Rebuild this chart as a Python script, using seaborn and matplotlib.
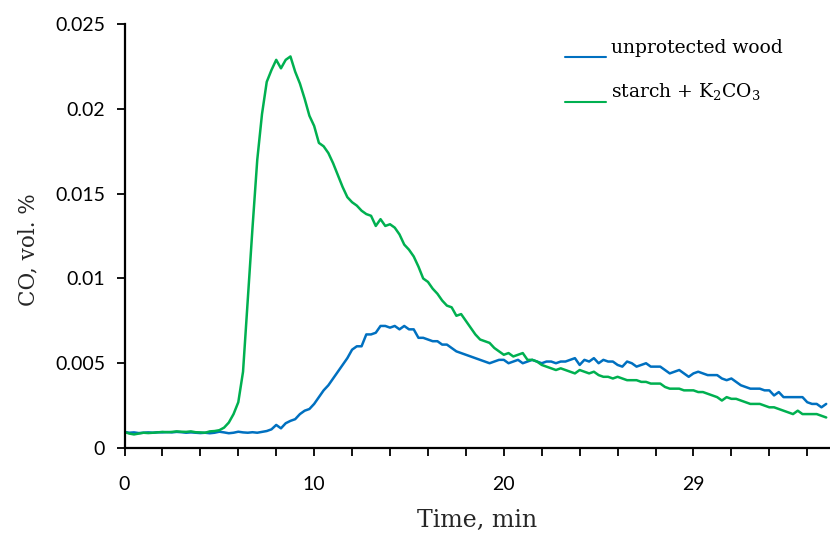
import numpy as np
import pandas as pd
import matplotlib
matplotlib.use('Agg')
import matplotlib.pyplot as plt
import seaborn as sns

# time axis, min (reading every 15 s)
time_min = np.arange(0, 37.001, 0.25)

# CO, vol. % - unprotected wood
unprotected = [
    0.00095, 0.0009, 0.00092, 0.00088, 0.0009, 0.00092, 0.0009, 0.00093,
    0.00092, 0.00094, 0.00092, 0.00095, 0.00093, 0.0009, 0.00092, 0.0009,
    0.00088, 0.0009, 0.00087, 0.0009, 0.00096, 0.00092, 0.00087, 0.0009,
    0.00096, 0.00092, 0.0009, 0.00093, 0.0009, 0.00095, 0.001, 0.0011,
    0.00136, 0.00116, 0.00146, 0.0016, 0.0017, 0.0020, 0.0022, 0.0023,
    0.0026, 0.0030, 0.0034, 0.0037, 0.0041, 0.0045, 0.0049, 0.0053,
    0.0058, 0.0060, 0.0060, 0.0067, 0.0067, 0.0068, 0.0072, 0.0072,
    0.0071, 0.0072, 0.0070, 0.0072, 0.0070, 0.0070, 0.0065, 0.0065,
    0.0064, 0.0063, 0.0063, 0.0061, 0.0061, 0.0059, 0.0057, 0.0056,
    0.0055, 0.0054, 0.0053, 0.0052, 0.0051, 0.0050, 0.0051, 0.0052,
    0.0052, 0.0050, 0.0051, 0.0052, 0.0050, 0.0051, 0.0052, 0.0051,
    0.0050, 0.0051, 0.0051, 0.0050, 0.0051, 0.0051, 0.0052, 0.0053,
    0.0049, 0.0052, 0.0051, 0.0053, 0.0050, 0.0052, 0.0051, 0.0051,
    0.0049, 0.0048, 0.0051, 0.0050, 0.0048, 0.0049, 0.0050, 0.0048,
    0.0048, 0.0048, 0.0046, 0.0044, 0.0045, 0.0046, 0.0044, 0.0042,
    0.0044, 0.0045, 0.0044, 0.0043, 0.0043, 0.0043, 0.0041, 0.0040,
    0.0041, 0.0039, 0.0037, 0.0036, 0.0035, 0.0035, 0.0035, 0.0034,
    0.0034, 0.0031, 0.0033, 0.0030, 0.0030, 0.0030, 0.0030, 0.0030,
    0.0027, 0.0026, 0.0026, 0.0024, 0.0026,
]

# CO, vol. % - starch + K2CO3
starch = [
    0.00095, 0.00085, 0.0008, 0.00085, 0.0009, 0.00088, 0.0009, 0.00092,
    0.00095, 0.00093, 0.00095, 0.00098, 0.00096, 0.00095, 0.00098, 0.00093,
    0.00092, 0.0009, 0.00098, 0.0010, 0.00105, 0.0012, 0.0015, 0.0020,
    0.0027, 0.0045, 0.0088, 0.0130, 0.0170, 0.0197, 0.0216, 0.0223,
    0.0229, 0.0224, 0.0229, 0.0231, 0.0222, 0.0215, 0.0206, 0.0196,
    0.0190, 0.0180, 0.0178, 0.0174, 0.0168, 0.0161, 0.0154, 0.0148,
    0.0145, 0.0143, 0.0140, 0.0138, 0.0137, 0.0131, 0.0135, 0.0131,
    0.0132, 0.0130, 0.0126, 0.0120, 0.0117, 0.0113, 0.0107, 0.0100,
    0.0098, 0.0094, 0.0091, 0.0087, 0.0084, 0.0083, 0.0078, 0.0079,
    0.0075, 0.0071, 0.0067, 0.0064, 0.0063, 0.0062, 0.0059, 0.0057,
    0.0055, 0.0056, 0.0054, 0.0055, 0.0056, 0.0052, 0.0052, 0.0051,
    0.0049, 0.0048, 0.0047, 0.0046, 0.0047, 0.0046, 0.0045, 0.0044,
    0.0046, 0.0045, 0.0044, 0.0045, 0.0043, 0.0042, 0.0042, 0.0041,
    0.0042, 0.0041, 0.0040, 0.0040, 0.0040, 0.0039, 0.0039, 0.0038,
    0.0038, 0.0038, 0.0036, 0.0035, 0.0035, 0.0035, 0.0034, 0.0034,
    0.0034, 0.0033, 0.0033, 0.0032, 0.0031, 0.0030, 0.0028, 0.0030,
    0.0029, 0.0029, 0.0028, 0.0027, 0.0026, 0.0026, 0.0026, 0.0025,
    0.0024, 0.0024, 0.0023, 0.0022, 0.0021, 0.0020, 0.0022, 0.0020,
    0.0020, 0.0020, 0.0020, 0.0019, 0.0018,
]

series_names = ['unprotected wood', r'starch + K$_2$CO$_3$']
colors = ['#0070C0', '#00B050']

x_ticks = np.arange(0, 37, 2)
x_ticklabels = {0: '0', 10: '10', 20: '20', 30: '29'}
y_ticks = [0, 0.005, 0.01, 0.015, 0.02, 0.025]
y_ticklabels = ['0', '0.005', '0.01', '0.015', '0.02', '0.025']

df = pd.DataFrame({
    'Time': np.concatenate([time_min, time_min]),
    'CO': unprotected + starch,
    'series': [series_names[0]] * len(unprotected) + [series_names[1]] * len(starch),
})

sns.set_style('ticks')
plt.rcParams['font.family'] = ['DejaVu Serif']
plt.rcParams['mathtext.fontset'] = 'dejavuserif'

fig = plt.figure(figsize=(8.3, 5.33), dpi=100)
ax = fig.add_axes([0.150, 0.1595, 0.85, 0.795])

sns.lineplot(data=df, x='Time', y='CO', hue='series', palette=colors,
             linewidth=1.8, legend=False, ax=ax)

ax.set_xlim(0, 37.2)
ax.set_ylim(0, 0.025)
ax.set_xticks(x_ticks)
ax.set_xticklabels([x_ticklabels.get(int(t), '') for t in x_ticks])
ax.set_yticks(y_ticks)
ax.set_yticklabels(y_ticklabels)
for lab in ax.get_xticklabels() + ax.get_yticklabels():
    lab.set_family(['Lato', 'DejaVu Sans'])
    lab.set_fontsize(14)

ax.tick_params(axis='both', direction='out', length=6, width=1.3, colors='black')
ax.tick_params(axis='x', pad=14)
ax.tick_params(axis='y', pad=8)
for side in ['left', 'bottom']:
    ax.spines[side].set_linewidth(1.6)
    ax.spines[side].set_color('black')
ax.spines['top'].set_visible(False)
ax.spines['right'].set_visible(False)

ax.set_xlabel('Time, min', fontsize=17, labelpad=12)
ax.set_ylabel('CO, vol. %', fontsize=15.5)
ax.yaxis.set_label_coords(-0.121, 0.467)

# legend in the style of the original: short line at the text baseline, then the label
legend_text_y = [0.932, 0.828]
legend_line_y = [0.9235, 0.817]
for name, col, ty, ly in zip(series_names, colors, legend_text_y, legend_line_y):
    ax.plot([0.624, 0.6825], [ly, ly], color=col, linewidth=1.5,
            transform=ax.transAxes, clip_on=False)
    ax.text(0.6896, ty, name, color='black', fontsize=13.5, va='baseline',
            transform=ax.transAxes)

fig.savefig('out.png', dpi=100)
